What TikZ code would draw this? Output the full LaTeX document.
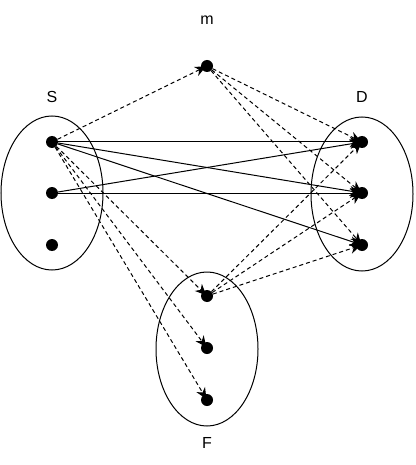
\documentclass[tikz,border=0pt]{standalone}
\usepackage{fontspec}
\setmainfont{Liberation Sans}
\usetikzlibrary{arrows.meta}
\begin{document}
\begin{tikzpicture}[x=1pt,y=-1pt,
  dot/.style={circle,fill=black,inner sep=0pt,minimum size=12pt},
  lbl/.style={font=\fontsize{16}{18}\selectfont,inner sep=0pt},
  solidarr/.style={line width=1pt,-{Stealth[length=11pt,width=10pt,inset=3.5pt]},shorten >=-5pt},
  dasharr/.style={solidarr,dash pattern=on 4pt off 3pt}]
\useasboundingbox (0,0) rectangle (415,465);
\draw[line width=1pt] (52,193) ellipse [x radius=51, y radius=77];
\draw[line width=1pt] (362,194) ellipse [x radius=51, y radius=77];
\draw[line width=1pt] (207,349) ellipse [x radius=51, y radius=77];
\node[lbl] (lm) at (207,20) {m};
\node[lbl] (ls) at (52,97) {S};
\node[lbl] (ld) at (362,97) {D};
\node[lbl] (lf) at (207,443) {F};
\node[dot] (m) at (207,66) {};
\node[dot] (s1) at (52,142) {};
\node[dot] (s2) at (52,193) {};
\node[dot] (s3) at (52,245) {};
\node[dot] (d1) at (362,142) {};
\node[dot] (d2) at (362,193) {};
\node[dot] (d3) at (362,245) {};
\node[dot] (f1) at (207,296) {};
\node[dot] (f2) at (207,348) {};
\node[dot] (f3) at (207,400) {};
\draw[solidarr] (s1) -- (d1);
\draw[solidarr] (s1) -- (d2);
\draw[solidarr] (s1) -- (d3);
\draw[solidarr] (s2) -- (d1);
\draw[solidarr] (s2) -- (d2);
\draw[dasharr] (s1) -- (m);
\draw[dasharr] (s1) -- (f1);
\draw[dasharr] (s1) -- (f2);
\draw[dasharr] (s1) -- (f3);
\draw[dasharr] (m) -- (d1);
\draw[dasharr] (m) -- (d2);
\draw[dasharr] (m) -- (d3);
\draw[dasharr] (f1) -- (d1);
\draw[dasharr] (f1) -- (d2);
\draw[dasharr] (f1) -- (d3);
\end{tikzpicture}
\end{document}
